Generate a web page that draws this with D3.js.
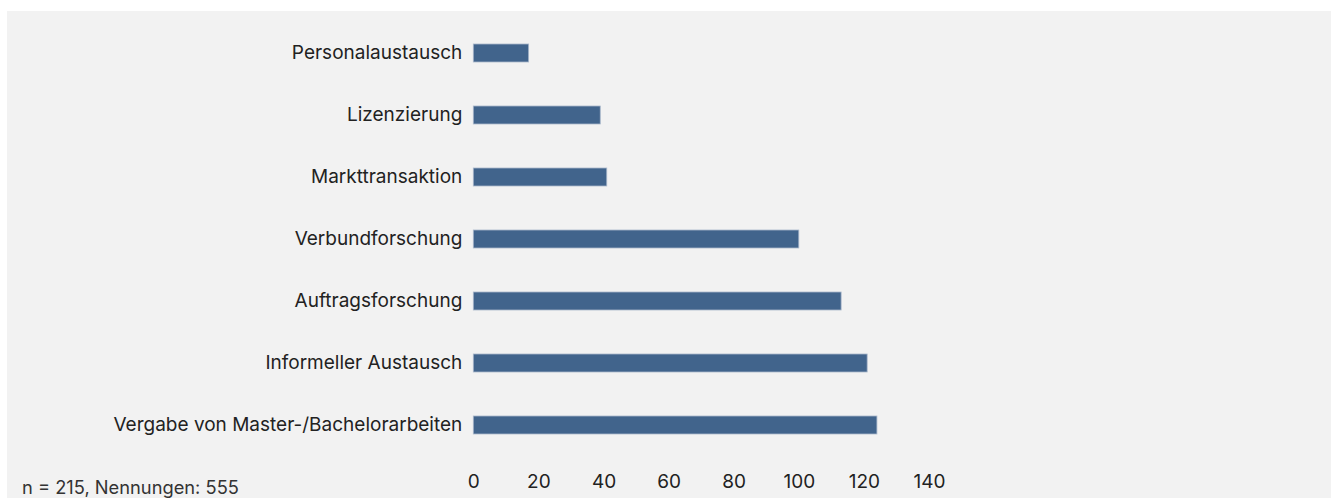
<!DOCTYPE html>
<html>
<head>
<meta charset="utf-8">
<script src="https://cdn.jsdelivr.net/npm/d3@7"></script>
<style>
  html, body { margin: 0; padding: 0; background: #ffffff; }
  svg { display: block; font-family: Inter, "Noto Sans", sans-serif; }
</style>
</head>
<body>
<svg id="chart" width="1336" height="498"></svg>
<script>
// Kanäle des Wissenstransfers (Anzahl Nennungen)
const categories = [
  "Personalaustausch",
  "Lizenzierung",
  "Markttransaktion",
  "Verbundforschung",
  "Auftragsforschung",
  "Informeller Austausch",
  "Vergabe von Master-/Bachelorarbeiten"
];
const values = [17, 39, 41, 100, 113, 121, 124];
const tickValues = [0, 20, 40, 60, 80, 100, 120, 140];
const footnote = "n = 215, Nennungen: 555";

const svg = d3.select("#chart");
const W = 1336, H = 498;

// Panel background
svg.append("rect")
  .attr("x", 7).attr("y", 11)
  .attr("width", 1324).attr("height", H - 11)
  .attr("fill", "#f2f2f2");

const x = d3.scaleLinear().domain([0, 140]).range([473.3, 929]);
const y = d3.scaleBand().domain(categories).range([22, 456])
  .paddingInner(0.71).paddingOuter(0.355);

// Bars
svg.append("g").selectAll("rect")
  .data(categories.map((c, i) => ({ c, v: values[i] })))
  .join("rect")
  .attr("x", x(0))
  .attr("y", d => y(d.c))
  .attr("width", d => x(d.v) - x(0))
  .attr("height", y.bandwidth())
  .attr("fill", "#41648c")
  .attr("stroke", "#a7b6ca")
  .attr("stroke-width", 0.8);

// Category axis
const yAxis = d3.axisLeft(y).tickSize(0).tickPadding(11);
const gy = svg.append("g").attr("transform", `translate(${x(0)},0)`).call(yAxis);
gy.select(".domain").remove();
gy.selectAll("text")
  .attr("font-family", "Inter, 'Noto Sans', sans-serif")
  .attr("font-size", 19)
  .attr("fill", "#222222");

// Value axis
const xAxis = d3.axisBottom(x).tickValues(tickValues).tickSize(0).tickPadding(0);
const gx = svg.append("g").attr("transform", "translate(0,474.5)").call(xAxis);
gx.select(".domain").remove();
gx.selectAll("text")
  .attr("font-family", "Inter, 'Noto Sans', sans-serif")
  .attr("font-size", 19)
  .attr("fill", "#222222");

// Footnote
svg.append("text")
  .attr("x", 22).attr("y", 494)
  .attr("font-size", 18.3)
  .attr("fill", "#333333")
  .text(footnote);
</script>
</body>
</html>
